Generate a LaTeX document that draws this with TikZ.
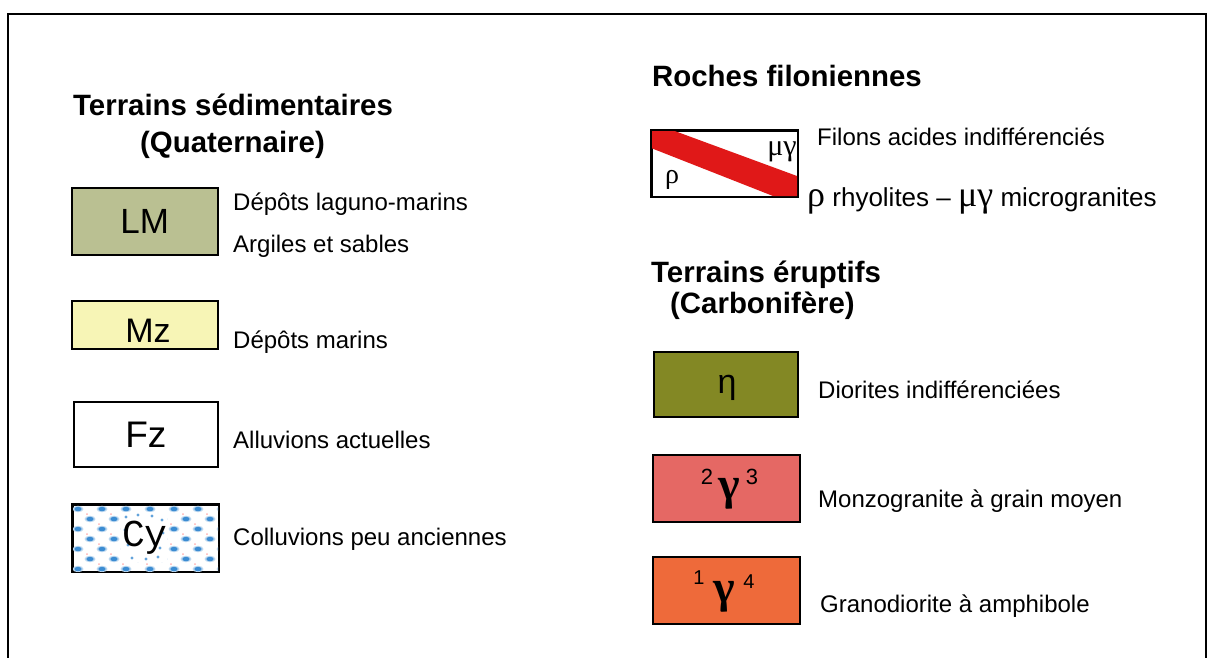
\documentclass[tikz,border=0pt]{standalone}
\usepackage{fontspec}
\setmainfont{Liberation Sans}
\newfontfamily\grserif{Liberation Serif}
\newfontfamily\monofam{Liberation Mono}
\definecolor{lmcol}{RGB}{186,192,146}
\definecolor{mzcol}{RGB}{247,245,182}
\definecolor{etacol}{RGB}{131,136,36}
\definecolor{monzcol}{RGB}{229,104,100}
\definecolor{granocol}{RGB}{238,106,58}
\definecolor{filonred}{RGB}{224,24,24}
\definecolor{dotblue}{RGB}{60,140,210}
\begin{document}
\begin{tikzpicture}[x=1pt,y=-1pt,
  legbox/.style={draw=black, line width=1.6pt, anchor=north west, inner sep=0pt},
  body/.style={anchor=base west, inner sep=0pt, font=\fontsize{24}{28}\selectfont},
  titletext/.style={anchor=base west, inner sep=0pt, font=\fontsize{29.4}{34}\selectfont\bfseries},
  boxlabel/.style={inner sep=0pt}]
\useasboundingbox (0,0) rectangle (1208,657);
\clip (0,0) rectangle (1208,657);
\draw[line width=2pt] (8,700) -- (8,14) -- (1206,14) -- (1206,700);

% ---------- left column ----------
\node[titletext] (tsed) at (73,115) {Terrains sédimentaires};
\node[titletext] (quat) at (140,152) {(Quaternaire)};

\node[legbox, fill=lmcol, minimum width=146, minimum height=67] (lm) at (71,187) {};
\node[boxlabel, font=\fontsize{35}{35}\selectfont] (lmt) at (lm.center) {LM};
\node[body] (lm1) at (233,210) {Dépôts laguno-marins};
\node[body] (lm2) at (233,252) {Argiles et sables};

\node[legbox, fill=mzcol, minimum width=146, minimum height=48] (mz) at (71,300) {};
\node[boxlabel, font=\fontsize{34}{34}\selectfont] (mzt) at (148,331) {Mz};
\node[body] (mz1) at (233,348) {Dépôts marins};

\node[legbox, fill=white, minimum width=144, minimum height=65] (fz) at (73,401) {};
\node[boxlabel, font=\fontsize{37}{37}\selectfont] (fzt) at (fz.center) {Fz};
\node[body] (fz1) at (233,448) {Alluvions actuelles};

\node[legbox, fill=white, minimum width=146, minimum height=67] (cy) at (72,504) {};
\begin{scope}
  \clip (72,504) rectangle (218,571);
  \foreach \r in {0,...,6}{
    \foreach \c in {0,...,6}{
      \pgfmathsetmacro{\xx}{78+\c*24+mod(\r,2)*12}
      \pgfmathsetmacro{\yy}{509+\r*10}
      \fill[dotblue!35] (\xx,\yy) ellipse (5.5 and 3.2);
      \fill[dotblue] (\xx,\yy) ellipse (3.6 and 2.2);
      \fill[red!30] (\xx+9,\yy+5) circle (1);
    }
  }
  \fill[white] (121,512) rectangle (167,562);
  \foreach \px/\py in {126/517,138/515,152/516,162/520,125/530,163/533,128/545,160/548,132/558,146/559,158/557}{
    \fill[dotblue!80] (\px,\py) circle (1.6);
  }
\end{scope}
\draw[line width=1.6pt] (cy.north west) rectangle (cy.south east);
\node[boxlabel, anchor=base, font=\monofam\fontsize{38}{38}\selectfont] (cyt) at (145,546) {Cy};
\node[body] (cy1) at (233,545) {Colluvions peu anciennes};

% ---------- right column ----------
\node[titletext] (rfil) at (652,86) {Roches filoniennes};

\node[legbox, fill=white, minimum width=146, minimum height=66] (fil) at (651,130) {};
\fill[filonred] (651,130) -- (672,130) -- (797,176) -- (797,196) -- (773,196) -- (651,148) -- cycle;
\draw[line width=1.6pt] (fil.north west) rectangle (fil.south east);
\node[boxlabel, font=\grserif\fontsize{30}{30}\selectfont] (mug) at (782,152) {μγ};
\node[boxlabel, font=\grserif\fontsize{28}{28}\selectfont] (rho) at (672,180) {ρ};
\node[body] (fil1) at (817,145) {Filons acides indifférenciés};
\node[body, font=\fontsize{26}{30}\selectfont] (fil2) at (807,206) {{\grserif\fontsize{36}{36}\selectfont ρ} rhyolites – {\grserif\fontsize{36}{36}\selectfont μγ} microgranites};

\node[titletext] (terup) at (651,282) {Terrains éruptifs};
\node[titletext] (carb) at (670,313) {(Carbonifère)};

\node[legbox, fill=etacol, minimum width=144, minimum height=65] (eta) at (653,351) {};
\node[boxlabel, font=\fontsize{34}{34}\selectfont] (etat) at (727,388) {η};
\node[body] (eta1) at (818,398) {Diorites indifférenciées};

\node[legbox, fill=monzcol, minimum width=147, minimum height=67] (monz) at (652,454) {};
\node[boxlabel, font=\grserif\bfseries\fontsize{46}{46}\selectfont] (monzg) at (729,494) {γ};
\node[boxlabel, font=\fontsize{22}{22}\selectfont] (monz2) at (707,477) {2};
\node[boxlabel, font=\fontsize{22}{22}\selectfont] (monz3) at (752,477) {3};
\node[body] (monz1) at (818,507) {Monzogranite à grain moyen};

\node[legbox, fill=granocol, minimum width=147, minimum height=67] (gran) at (652,556) {};
\node[boxlabel, font=\grserif\bfseries\fontsize{46}{46}\selectfont] (grang) at (724,597) {γ};
\node[boxlabel, font=\fontsize{20}{20}\selectfont] (gran1) at (699,578) {1};
\node[boxlabel, font=\fontsize{20}{20}\selectfont] (gran4) at (749,582) {4};
\node[body] (gran1t) at (820,612) {Granodiorite à amphibole};
\end{tikzpicture}
\end{document}
